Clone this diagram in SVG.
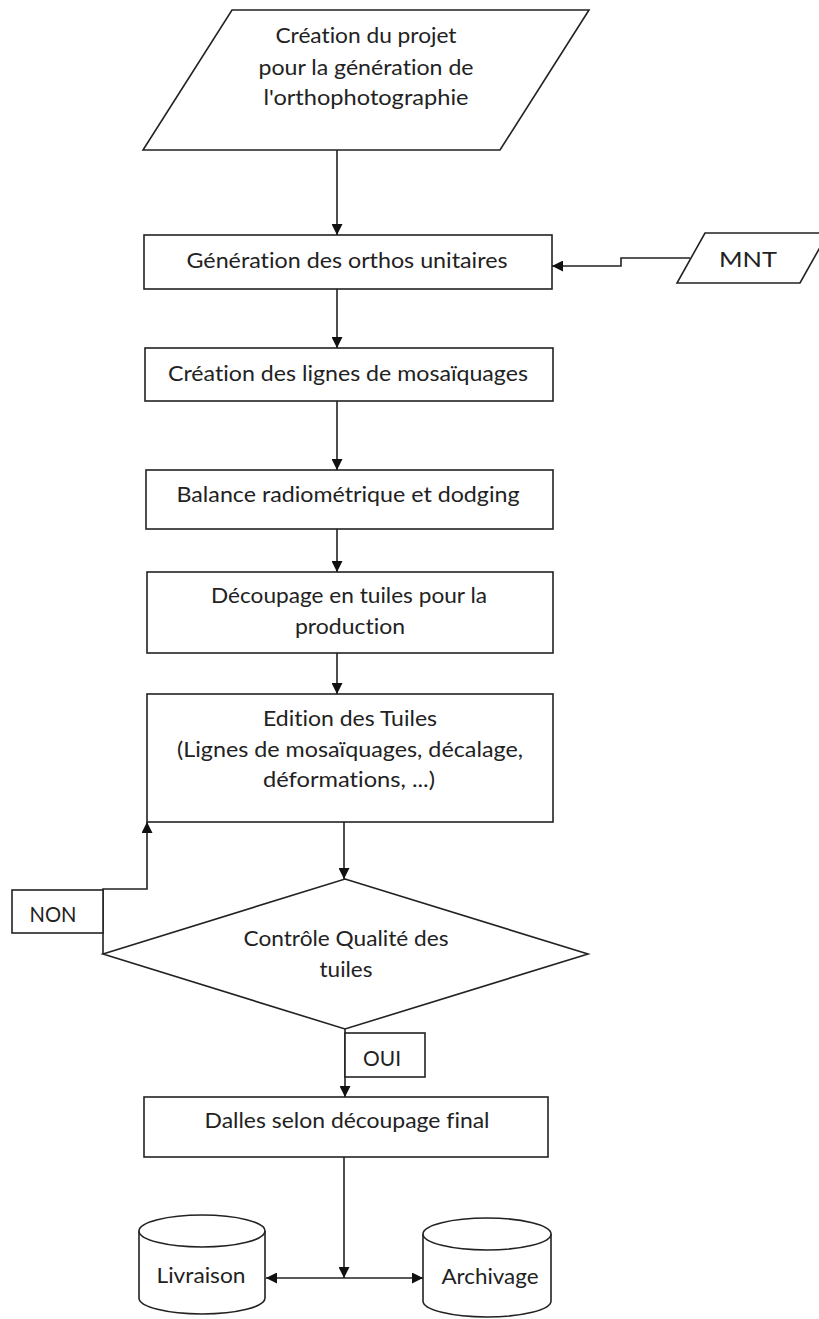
<svg xmlns="http://www.w3.org/2000/svg" width="819" height="1319" viewBox="0 0 819 1319">
<style>
.s{fill:#fff;stroke:#222;stroke-width:1.6}
.t{font-family:Lato,"Open Sans","Liberation Sans",sans-serif;font-size:21px;fill:#222;text-anchor:middle;font-variant-ligatures:none;font-feature-settings:"liga" 0,"dlig" 0}
.c{fill:none;stroke:#222;stroke-width:1.6}
</style>
<defs>
<marker id="ah" viewBox="0 0 11 11" refX="11" refY="5.5" markerWidth="11" markerHeight="11" markerUnits="userSpaceOnUse" orient="auto">
<path d="M0,0 L11,5.5 L0,11 z" fill="#111"/>
</marker>
</defs>
<rect width="819" height="1319" fill="#fff"/>
<g id="n-start">
<polygon class="s" points="232,10 589,10 500,150 143,150"/>
<text class="t" x="366" y="43" textLength="181" lengthAdjust="spacingAndGlyphs">Création du projet</text>
<text class="t" x="366" y="75" textLength="215" lengthAdjust="spacingAndGlyphs">pour la génération de</text>
<text class="t" x="366" y="105" textLength="205" lengthAdjust="spacingAndGlyphs">l'orthophotographie</text>
</g>
<g id="n-mnt">
<polygon class="s" points="705,233 828,233 800,283 677,283"/>
<text class="t" x="748" y="267" textLength="58" lengthAdjust="spacingAndGlyphs">MNT</text>
</g>
<g id="n-gen">
<rect class="s" x="144" y="235" width="408" height="54"/>
<text class="t" x="347" y="268" textLength="321" lengthAdjust="spacingAndGlyphs">Génération des orthos unitaires</text>
</g>
<g id="n-lignes">
<rect class="s" x="145" y="348" width="408" height="53"/>
<text class="t" x="348" y="381" textLength="360" lengthAdjust="spacingAndGlyphs">Création des lignes de mosaïquages</text>
</g>
<g id="n-balance">
<rect class="s" x="146" y="470" width="407" height="59"/>
<text class="t" x="348" y="502" textLength="343" lengthAdjust="spacingAndGlyphs">Balance radiométrique et dodging</text>
</g>
<g id="n-decoupage">
<rect class="s" x="147" y="572" width="406" height="81"/>
<text class="t" x="349" y="603" textLength="276" lengthAdjust="spacingAndGlyphs">Découpage en tuiles pour la</text>
<text class="t" x="350" y="634" textLength="110" lengthAdjust="spacingAndGlyphs">production</text>
</g>
<g id="n-edition">
<rect class="s" x="147" y="694" width="406" height="128"/>
<text class="t" x="350" y="726" textLength="174" lengthAdjust="spacingAndGlyphs">Edition des Tuiles</text>
<text class="t" x="350" y="757" textLength="346" lengthAdjust="spacingAndGlyphs">(Lignes de mosaïquages, décalage,</text>
<text class="t" x="349" y="787" textLength="172" lengthAdjust="spacingAndGlyphs">déformations, ...)</text>
</g>
<g id="n-controle">
<polygon class="s" points="345,879 588,954 345,1029 103,954"/>
<text class="t" x="346" y="946" textLength="205" lengthAdjust="spacingAndGlyphs">Contrôle Qualité des</text>
<text class="t" x="346" y="977" textLength="53" lengthAdjust="spacingAndGlyphs">tuiles</text>
</g>
<g id="n-dalles">
<rect class="s" x="144" y="1097" width="404" height="60"/>
<text class="t" x="347" y="1128" textLength="285" lengthAdjust="spacingAndGlyphs">Dalles selon découpage final</text>
</g>
<g id="n-livraison">
<path class="s" d="M139,1231 L139,1298 A63,16 0 0 0 265,1298 L265,1231"/>
<ellipse class="s" cx="202" cy="1231" rx="63" ry="16"/>
<text class="t" x="201" y="1283" textLength="89" lengthAdjust="spacingAndGlyphs">Livraison</text>
</g>
<g id="n-archivage">
<path class="s" d="M423,1234 L423,1301 A64,16 0 0 0 551,1301 L551,1234"/>
<ellipse class="s" cx="487" cy="1234" rx="64" ry="16"/>
<text class="t" x="490" y="1284" textLength="97" lengthAdjust="spacingAndGlyphs">Archivage</text>
</g>
<g id="connectors">
<line class="c" x1="337" y1="150" x2="337" y2="235" marker-end="url(#ah)"/>
<polyline class="c" points="690,258 621,258 621,266 552,266" marker-end="url(#ah)"/>
<line class="c" x1="337" y1="289" x2="337" y2="348" marker-end="url(#ah)"/>
<line class="c" x1="337" y1="401" x2="337" y2="470" marker-end="url(#ah)"/>
<line class="c" x1="337" y1="529" x2="337" y2="572" marker-end="url(#ah)"/>
<line class="c" x1="337" y1="653" x2="337" y2="694" marker-end="url(#ah)"/>
<line class="c" x1="344" y1="822" x2="344" y2="879" marker-end="url(#ah)"/>
<polyline class="c" points="103,954 103,889 147,889 147,822" marker-end="url(#ah)"/>
<line class="c" x1="345" y1="1029" x2="345" y2="1097" marker-end="url(#ah)"/>
<line class="c" x1="344" y1="1157" x2="344" y2="1278" marker-end="url(#ah)"/>
<line class="c" x1="344" y1="1278" x2="266" y2="1278" marker-end="url(#ah)"/>
<line class="c" x1="344" y1="1278" x2="423" y2="1278" marker-end="url(#ah)"/>
</g>
<g id="l-non">
<rect class="s" x="12" y="890" width="91" height="43"/>
<text class="t" x="53" y="922" textLength="47" lengthAdjust="spacingAndGlyphs">NON</text>
</g>
<g id="l-oui">
<rect class="s" x="345" y="1033" width="80" height="44"/>
<text class="t" x="382" y="1066" textLength="38" lengthAdjust="spacingAndGlyphs">OUI</text>
</g>
</svg>
